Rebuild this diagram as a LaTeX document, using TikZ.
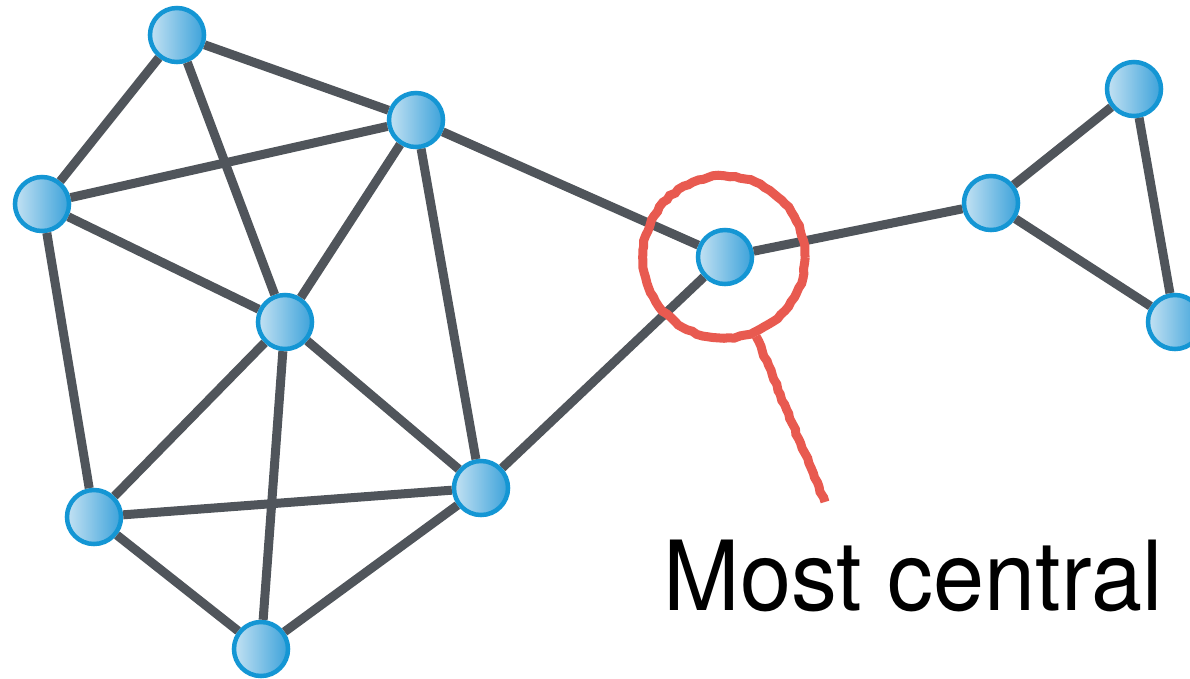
\documentclass[tikz,border=0pt]{standalone}
\usepackage{fontspec}
\newfontfamily\labelfont[FakeStretch=0.95]{TeX Gyre Heros}
\usetikzlibrary{decorations.pathmorphing}

\definecolor{edgegray}{HTML}{50555B}
\definecolor{ringblue}{HTML}{1496D4}
\definecolor{balllight}{HTML}{C4E2F3}
\definecolor{balldark}{HTML}{3CA2DA}
\definecolor{penred}{HTML}{E85A50}

\begin{document}
\begin{tikzpicture}[x=0.01cm, y=-0.01cm,
    vertex/.style={circle, draw=ringblue, line width=0.045cm, minimum size=0.54cm,
        inner sep=0pt, left color=balllight, right color=balldark},
    link/.style={edgegray, line width=0.09cm},
    pen/.style={draw=penred, line width=0.09cm, decorate,
        decoration={random steps, segment length=1.5pt, amplitude=0.25pt}}]
        \pgfmathsetseed{7}
        \useasboundingbox (0,0) rectangle (1190,678);

        % 节点
        \node[vertex] (a) at (177,35) {};
        \node[vertex] (b) at (416,120) {};
        \node[vertex] (c) at (42,204) {};
        \node[vertex] (d) at (285,322) {};
        \node[vertex] (e) at (725,257) {};
        \node[vertex] (f) at (991,203) {};
        \node[vertex] (g) at (1134,89) {};
        \node[vertex] (h) at (1175,322) {};
        \node[vertex] (i) at (94,517) {};
        \node[vertex] (j) at (481,488) {};
        \node[vertex] (k) at (261,649) {};

        % 连线
        \draw[link] (a) -- (b);
        \draw[link] (a) -- (c);
        \draw[link] (a) -- (d);
        \draw[link] (b) -- (c);
        \draw[link] (b) -- (d);
        \draw[link] (b) -- (j);
        \draw[link] (b) -- (e);
        \draw[link] (c) -- (d);
        \draw[link] (c) -- (i);
        \draw[link] (d) -- (i);
        \draw[link] (d) -- (j);
        \draw[link] (d) -- (k);
        \draw[link] (i) -- (j);
        \draw[link] (i) -- (k);
        \draw[link] (k) -- (j);
        \draw[link] (j) -- (e);
        \draw[link] (e) -- (f);
        \draw[link] (f) -- (g);
        \draw[link] (f) -- (h);
        \draw[link] (g) -- (h);

        % 红圈与标注
        \node[pen, circle, minimum size=1.62cm, inner sep=0pt] (ring) at (724,257) {};
        \coordinate (tip) at (825,502);
        \draw[pen] (ring.-68) -- (tip);
        \node[anchor=base west, inner sep=0pt] (label) at (663,610)
        {\labelfont\fontsize{27.5}{33}\selectfont Most central};

    \end{tikzpicture}
\end{document}
